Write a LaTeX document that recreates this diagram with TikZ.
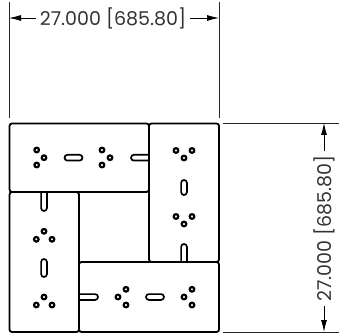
\documentclass[tikz,border=0pt]{standalone}
\usepackage{fontspec}
\setmainfont{Poppins}
\usetikzlibrary{arrows.meta}
\tikzset{
    panel/.style={draw=black,line width=1.8pt,rounded corners=2.5pt},
    hole/.style={draw=black,line width=2.2pt,fill=white},
    slot/.style={draw=black,line width=1.7pt,rounded corners=2.9pt,fill=white},
    extline/.style={draw=black!85,line width=.8pt},
    dimline/.style={draw=black,line width=.8pt,-{Latex[length=12pt,width=6pt]}},
    dimtext/.style={font=\fontsize{19pt}{22pt}\selectfont,text=black!80,inner sep=4pt}
}
\begin{document}
\begin{tikzpicture}[x=1pt,y=-1pt]
    \useasboundingbox (0,0) rectangle (339,336);
    \pgfmathsetmacro{\holeradius}{2.3}
    \pgfmathsetmacro{\slothalf}{2.9}
    % panels
    \draw[panel] (9.5,123.5) rectangle (149,192);
    \draw[panel] (149,123.5) rectangle (219,262);
    \draw[panel] (9.5,192) rectangle (79,332);
    \draw[panel] (79,262) rectangle (219,332);
    % holes
    \foreach \hx/\hy in {36.7/150,36.7/165,44/157.7,102/150,102/165,110/157.7,
        176/150.5,192/150.5,184/158,176/216.5,192/216.5,184/224,
        44/231.3,36.3/239.3,52/239.3,44/297,36.3/305,52/305,
        126/289.3,118/297,126/305,192/289.3,184/297,192/305}
        \draw[hole] (\hx,\hy) circle (\holeradius);
    % slots inside
    \foreach \sx/\sy/\ex/\ey in {64.5/157.7/82.5/157.7,146/297/164/297}
        \draw[slot] (\sx,\sy-\slothalf) rectangle (\ex,\ey+\slothalf);
    \foreach \sx/\sy/\ex/\ey in {184/180/184/195,44/259/44/277}
        \draw[slot] (\sx-\slothalf,\sy) rectangle (\ex+\slothalf,\ey);
    % slots open at an edge
    \draw[slot,fill=none] (149,154.8) -- (131,154.8) -- (131,160.6) -- (149,160.6);
    \draw[slot,fill=none] (79.5,294.1) -- (98,294.1) -- (98,299.9) -- (79.5,299.9);
    \draw[slot,fill=none] (41.1,192.5) -- (41.1,211) -- (46.9,211) -- (46.9,192.5);
    \draw[slot,fill=none] (181.1,261.5) -- (181.1,244) -- (186.9,244) -- (186.9,261.5);
    % extension lines
    \draw[extline] (9,2) -- (9,118);
    \draw[extline] (219,2) -- (219,118);
    \draw[extline] (223,123) -- (339,123);
    \draw[extline] (223,332) -- (339,332);
    % dimensions
    \coordinate (wleft) at (9,18);
    \coordinate (wright) at (219,18);
    \coordinate (htop) at (324,123);
    \coordinate (hbottom) at (324,332);
    \node[dimtext] (wtext) at (113,18) {27.000 [685.80]};
    \node[dimtext,rotate=90] (htext) at (324,228.5) {27.000 [685.80]};
    \draw[dimline] (wtext) -- (wleft);
    \draw[dimline] (wtext) -- (wright);
    \draw[dimline] (htext) -- (htop);
    \draw[dimline] (htext) -- (hbottom);
\end{tikzpicture}
\end{document}
